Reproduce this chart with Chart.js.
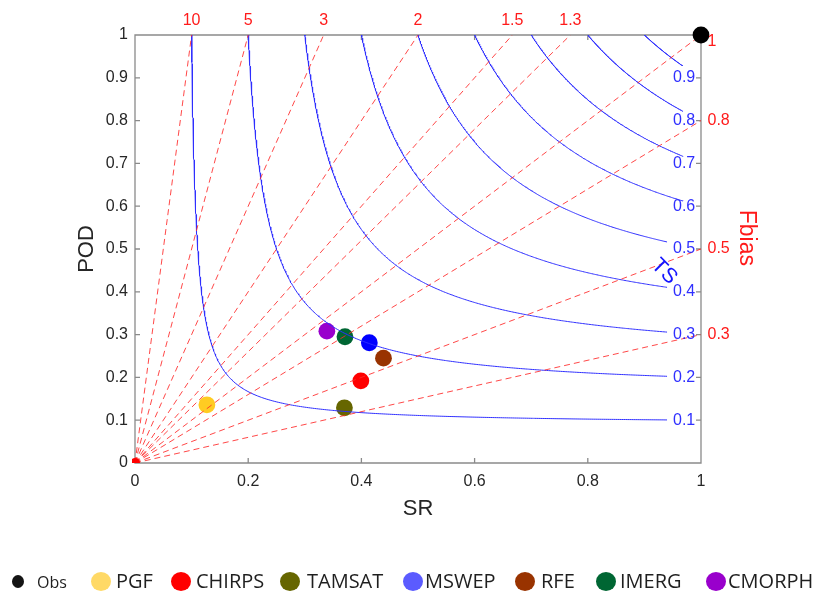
<!DOCTYPE html>
<html>
<head>
<meta charset="utf-8">
<script src="https://cdn.jsdelivr.net/npm/chart.js@4.4.0/dist/chart.umd.min.js"></script>
<style>
  html, body { margin: 0; padding: 0; background: #fff; }
  #wrap { position: relative; width: 819px; height: 591px; overflow: hidden; }
  #legend { position: absolute; left: 0; top: 569px; width: 819px; height: 24px;
            font-family: "Open Sans", sans-serif; font-size: 20px; color: #1f1f1f; white-space: nowrap; }
  .dot { position: absolute; top: 3px; width: 20px; height: 19px; border-radius: 50%; }
  .dot.small { top: 6px; width: 12px; height: 13px; }
  .txt { position: absolute; top: -2px; line-height: 28px; }
  .txt.small { font-size: 16px; top: -1px; }
</style>
</head>
<body>
<div id="wrap">
  <canvas id="c" width="819" height="591"></canvas>
  <div id="legend"></div>
</div>
<script>
// Products verified against the observed reference (success ratio vs probability of detection)
const products = ['Obs', 'PGF', 'CHIRPS', 'TAMSAT', 'MSWEP', 'RFE', 'IMERG', 'CMORPH'];
const srValues  = [1.000, 0.127, 0.399, 0.370, 0.414, 0.439, 0.371, 0.339];
const podValues = [1.000, 0.136, 0.192, 0.129, 0.281, 0.245, 0.295, 0.308];
const markerColors = ['#000000', '#ffcc22', '#ff0000', '#666600', '#0000ff', '#993300', '#006633', '#9900cc'];
const legendColors = ['#141414', '#ffd966', '#ff0000', '#666600', '#5b5bff', '#993300', '#006633', '#9900cc'];

// Guide lines of the performance diagram
const tsLevels   = [0.1, 0.2, 0.3, 0.4, 0.5, 0.6, 0.7, 0.8, 0.9];
const biasLevels = [10, 5, 3, 2, 1.5, 1.3, 1, 0.8, 0.5, 0.3];

// Axis ticks
const xTicks = [0, 0.2, 0.4, 0.6, 0.8, 1];
const xTickLabels = ['0', '0.2', '0.4', '0.6', '0.8', '1'];
const yTicks = [0, 0.1, 0.2, 0.3, 0.4, 0.5, 0.6, 0.7, 0.8, 0.9, 1];
const yTickLabels = ['0', '0.1', '0.2', '0.3', '0.4', '0.5', '0.6', '0.7', '0.8', '0.9', '1'];

// Legend layout (left edges of marker and caption, px)
const legendDotLeft = [12, 91, 171, 280, 403, 515, 596, 706];
const legendTextLeft = [37, 116, 196, 307, 425, 541, 620, 728];

const FONT = '"Liberation Sans", Arial, sans-serif';
const AXIS_COLOR = '#8a8a8a';
const TEXT_COLOR = '#262626';
const TS_COLOR = '#2f2fff';
const BIAS_COLOR = 'rgba(255,40,40,0.85)';

// Threat-score isoline: POD as a function of SR for a fixed TS
function tsCurve(t) {
  const end = t >= 0.6 ? 0.968 : 0.94;
  const podEnd = 1 / (1 / t - 1 / end + 1);
  const pts = [];
  const n = 240;
  for (let i = 0; i <= n; i++) {
    const sr = t + (end - t) * i / n;
    pts.push({ x: sr, y: 1 / (1 / t - 1 / sr + 1) });
  }
  for (let i = 1; i < n; i++) {
    const pod = 1 - (1 - podEnd) * i / n;
    pts.push({ x: 1 / (1 / t - 1 / pod + 1), y: pod });
  }
  pts.sort((a, b) => a.x - b.x);
  return pts;
}

const datasets = [];

tsLevels.forEach(t => {
  datasets.push({
    data: tsCurve(t), showLine: true, pointRadius: 0, borderColor: TS_COLOR,
    borderWidth: 1, tension: 0, order: 2
  });
});

biasLevels.forEach(b => {
  const end = b >= 1 ? { x: 1 / b, y: 1 } : { x: 1, y: b };
  datasets.push({
    data: [{ x: 0, y: 0 }, end], showLine: true, pointRadius: 0, borderColor: BIAS_COLOR,
    borderWidth: 1, borderDash: [6, 4], order: 1
  });
});

// Origin marker
datasets.push({
  data: [{ x: 0, y: 0 }], pointRadius: 5, backgroundColor: '#ff0000', borderWidth: 0,
  clip: { left: 3, top: 0, right: 0, bottom: 0 }, order: 0
});

products.forEach((name, i) => {
  datasets.push({
    label: name, data: [{ x: srValues[i], y: podValues[i] }],
    pointRadius: 8.4, backgroundColor: markerColors[i], borderWidth: 0,
    clip: false, order: name === 'Obs' ? 0 : 5
  });
});

const decor = {
  id: 'decor',
  beforeDatasetsDraw(chart) {
    const { ctx, chartArea: a, scales: { x, y } } = chart;
    ctx.save();
    ctx.strokeStyle = AXIS_COLOR;
    ctx.lineWidth = 1.3;
    ctx.beginPath();
    ctx.rect(a.left, a.top, a.right - a.left, a.bottom - a.top);
    const tl = 5;
    xTicks.forEach(v => {
      const px = x.getPixelForValue(v);
      ctx.moveTo(px, a.bottom); ctx.lineTo(px, a.bottom - tl);
      ctx.moveTo(px, a.top); ctx.lineTo(px, a.top + tl);
    });
    yTicks.forEach(v => {
      const py = y.getPixelForValue(v);
      ctx.moveTo(a.left, py); ctx.lineTo(a.left + tl, py);
      ctx.moveTo(a.right, py); ctx.lineTo(a.right - tl, py);
    });
    ctx.stroke();
    ctx.restore();
  },
  afterDatasetsDraw(chart) {
    const { ctx, scales: { x, y } } = chart;
    ctx.save();
    ctx.textBaseline = 'middle';

    // TS values along the right edge
    ctx.fillStyle = TS_COLOR;
    ctx.font = '16px ' + FONT;
    ctx.textAlign = 'left';
    tsLevels.forEach(t => {
      ctx.fillText(String(t), x.getPixelForValue(0.9505), y.getPixelForValue(t));
    });

    // Frequency-bias values: along the top for bias > 1, right side otherwise
    ctx.fillStyle = '#ff1a1a';
    biasLevels.forEach(b => {
      if (b > 1) {
        ctx.textAlign = 'center';
        ctx.fillText(String(b), x.getPixelForValue(1 / b), y.getPixelForValue(1.033));
      } else {
        ctx.textAlign = 'left';
        const yy = b === 1 ? 0.984 : b;
        ctx.fillText(String(b), x.getPixelForValue(1.0115), y.getPixelForValue(yy));
      }
    });

    // Fbias title
    ctx.save();
    ctx.translate(x.getPixelForValue(1.0795), y.getPixelForValue(0.526));
    ctx.rotate(Math.PI / 2);
    ctx.textAlign = 'center';
    ctx.font = '23px ' + FONT;
    ctx.fillText('Fbias', 0, 0);
    ctx.restore();

    // TS title
    ctx.save();
    ctx.translate(x.getPixelForValue(0.935), y.getPixelForValue(0.447));
    ctx.rotate(Math.PI * 0.25);
    ctx.textAlign = 'center';
    ctx.fillStyle = '#1414ff';
    ctx.font = '21px ' + FONT;
    ctx.fillText('TS', 0, 0);
    ctx.restore();

    ctx.restore();
  }
};

new Chart(document.getElementById('c'), {
  type: 'scatter',
  data: { datasets },
  options: {
    responsive: false,
    animation: false,
    devicePixelRatio: 1,
    layout: { padding: { left: 0, top: 35, right: 118, bottom: 68 } },
    plugins: { legend: { display: false }, tooltip: { enabled: false } },
    scales: {
      x: {
        type: 'linear', min: 0, max: 1,
        afterBuildTicks: s => { s.ticks = xTicks.map(v => ({ value: v })); },
        afterFit: s => { s.height = 60; },
        grid: { display: false, drawTicks: false },
        border: { display: false },
        ticks: {
          padding: 9, color: TEXT_COLOR, font: { family: FONT, size: 16 },
          maxRotation: 0, autoSkip: false,
          callback: (v, i) => xTickLabels[i]
        },
        title: { display: true, text: 'SR', color: TEXT_COLOR, font: { family: FONT, size: 22 }, padding: { top: 0, bottom: 1 } }
      },
      y: {
        type: 'linear', min: 0, max: 1,
        afterBuildTicks: s => { s.ticks = yTicks.map(v => ({ value: v })); },
        afterFit: s => { s.width = 135; },
        grid: { display: false, drawTicks: false },
        border: { display: false },
        ticks: {
          padding: 7, color: TEXT_COLOR, font: { family: FONT, size: 16 },
          autoSkip: false,
          callback: (v, i) => yTickLabels[i]
        },
        title: { display: true, text: 'POD', color: TEXT_COLOR, font: { family: FONT, size: 22 }, padding: { top: 74, bottom: 0 } }
      }
    }
  },
  plugins: [decor]
});

// Legend row
const legendEl = document.getElementById('legend');
products.forEach((name, i) => {
  const small = i === 0 ? ' small' : '';
  const dot = document.createElement('span');
  dot.className = 'dot' + small;
  dot.style.left = legendDotLeft[i] + 'px';
  dot.style.background = legendColors[i];
  const txt = document.createElement('span');
  txt.className = 'txt' + small;
  txt.style.left = legendTextLeft[i] + 'px';
  txt.textContent = name;
  legendEl.appendChild(dot);
  legendEl.appendChild(txt);
});
</script>
</body>
</html>
